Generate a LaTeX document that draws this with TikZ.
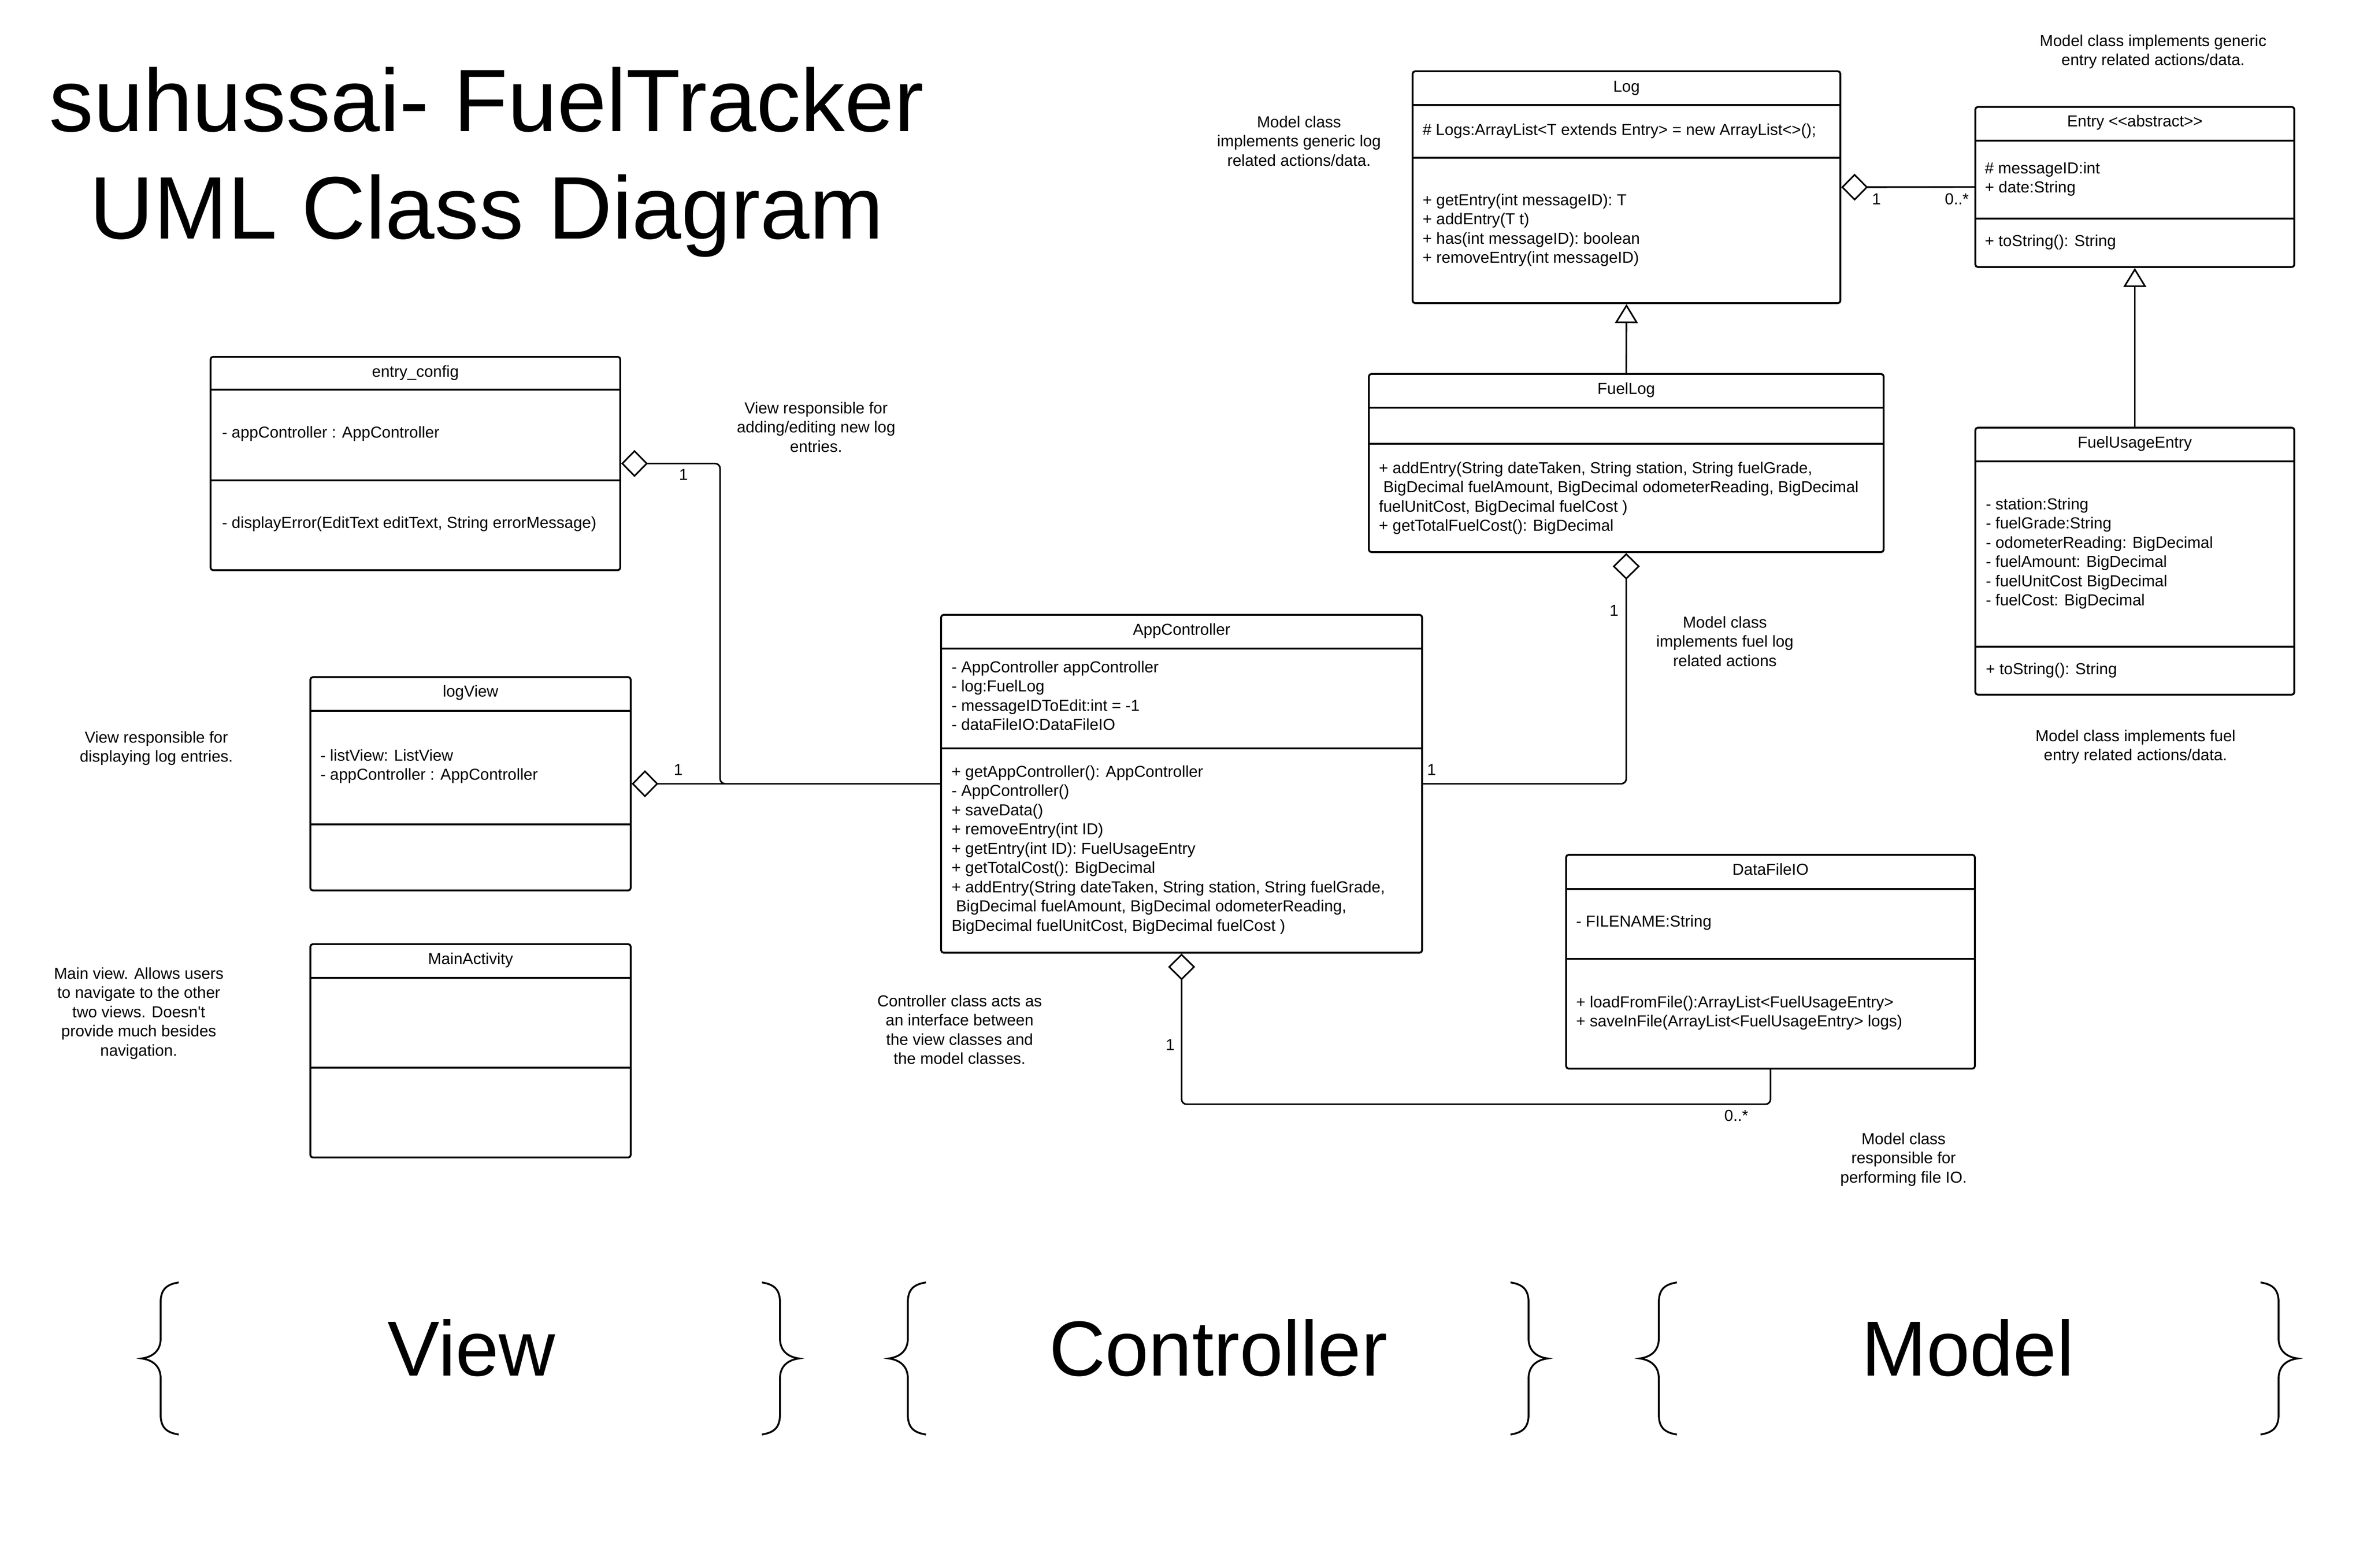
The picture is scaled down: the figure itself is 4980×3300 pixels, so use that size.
\documentclass[tikz,border=0pt]{standalone}
\usepackage{fontspec}
\setmainfont{Liberation Sans}
\usetikzlibrary{arrows.meta,fit}
\tikzset{
  umlbox/.style={draw, line width=1.1pt, rounded corners=1.5pt, inner sep=0pt},
  sepline/.style={line width=1.1pt},
  body/.style={font=\fontsize{9.53pt}{11.52pt}\selectfont, inner sep=0pt, outer sep=0pt},
  cls/.style={body, anchor=base},
  comp/.style={body, anchor=north west, align=left},
  note/.style={body, anchor=north, align=center},
  mult/.style={body, anchor=base},
  conn/.style={line width=0.95pt},
  agg/.style={conn, -{Diamond[open, length=0.56cm, width=0.57cm]}},
  gen/.style={conn, -{Triangle[open, length=0.40cm, width=0.48cm]}},
  braceline/.style={line width=1.1pt},
  bigtitle/.style={font=\fontsize{53.1pt}{61pt}\selectfont, anchor=base, inner sep=0pt},
  biglabel/.style={font=\fontsize{46.7pt}{54pt}\selectfont, anchor=base, inner sep=0pt},
  curlyb/.pic={\draw[braceline] (78,-160) .. controls (52,-156) and (40,-145) .. (40,-118) -- (40,-42) .. controls (40,-15) and (22,-3) .. (0,0) .. controls (22,3) and (40,15) .. (40,42) -- (40,118) .. controls (40,145) and (52,156) .. (78,160);}
}
\begin{document}
\begin{tikzpicture}[x=0.01cm, y=-0.01cm]
\useasboundingbox (0,0) rectangle (4980,3300);
\fill[white] (0,0) rectangle (4980,3300);

% ---------- title ----------
\node[bigtitle] (title1) at (1024,277) {suhussai- FuelTracker};
\node[bigtitle] (title2) at (1024,502) {UML Class Diagram};

% ---------- Log ----------
\node[umlbox, fit={(2972,150) (3872,638)}] (log) {};
\draw[sepline] (2972,221) -- (3872,221);
\draw[sepline] (2972,332) -- (3872,332);
\node[cls] (logt) at (3422,194) {Log};
\node[comp] (loga) at (2993,255.65) {\strut\# Logs:ArrayList<T extends Entry> = new ArrayList<>();};
\node[comp] (logm) at (2993,403.65) {\strut+ getEntry(int messageID): T\\\strut+ addEntry(T t)\\\strut+ has(int messageID): boolean\\\strut+ removeEntry(int messageID)};

% ---------- Entry ----------
\node[umlbox, fit={(4156,225) (4827,562)}] (entry) {};
\draw[sepline] (4156,296) -- (4827,296);
\draw[sepline] (4156,460) -- (4827,460);
\node[cls] (entryt) at (4491.5,267) {Entry <{}<abstract>{}>};
\node[comp] (entrya) at (4176,336.65) {\strut\# messageID:int\\\strut+ date:String};
\node[comp] (entrym) at (4176,489.65) {\strut+ toString(): String};

% ---------- FuelLog ----------
\node[umlbox, fit={(2880,787) (3963,1162)}] (fuellog) {};
\draw[sepline] (2880,858) -- (3963,858);
\draw[sepline] (2880,934) -- (3963,934);
\node[cls] (fuellogt) at (3421.5,829) {FuelLog};
\node[comp] (fuellogm) at (2901,967.65) {\strut+ addEntry(String dateTaken, String station, String fuelGrade,\\\strut\ BigDecimal fuelAmount, BigDecimal odometerReading, BigDecimal\\\strut fuelUnitCost, BigDecimal fuelCost )\\\strut+ getTotalFuelCost(): BigDecimal};

% ---------- FuelUsageEntry ----------
\node[umlbox, fit={(4156,900) (4827,1462)}] (fuelusage) {};
\draw[sepline] (4156,971) -- (4827,971);
\draw[sepline] (4156,1361) -- (4827,1361);
\node[cls] (fuelusaget) at (4491.5,942) {FuelUsageEntry};
\node[comp] (fuelusagea) at (4178,1043.65) {\strut- station:String\\\strut- fuelGrade:String\\\strut- odometerReading: BigDecimal\\\strut- fuelAmount: BigDecimal\\\strut- fuelUnitCost BigDecimal\\\strut- fuelCost: BigDecimal};
\node[comp] (fuelusagem) at (4178,1390.65) {\strut+ toString(): String};

% ---------- entry_config ----------
\node[umlbox, fit={(443,751) (1305,1200)}] (entryconfig) {};
\draw[sepline] (443,820) -- (1305,820);
\draw[sepline] (443,1011) -- (1305,1011);
\node[cls] (entryconfigt) at (874,793) {entry\_config};
\node[comp] (entryconfiga) at (467,892.65) {\strut- appController : AppController};
\node[comp] (entryconfigm) at (467,1082.65) {\strut- displayError(EditText editText, String errorMessage)};

% ---------- logView ----------
\node[umlbox, fit={(653,1425) (1327,1874)}] (logview) {};
\draw[sepline] (653,1496) -- (1327,1496);
\draw[sepline] (653,1735) -- (1327,1735);
\node[cls] (logviewt) at (990,1466) {logView};
\node[comp] (logviewa) at (674,1572.65) {\strut- listView: ListView\\\strut- appController : AppController};

% ---------- MainActivity ----------
\node[umlbox, fit={(653,1987) (1327,2436)}] (mainact) {};
\draw[sepline] (653,2058) -- (1327,2058);
\draw[sepline] (653,2247) -- (1327,2247);
\node[cls] (mainactt) at (990,2029) {MainActivity};

% ---------- AppController ----------
\node[umlbox, fit={(1980,1294) (2992,2005)}] (appctrl) {};
\draw[sepline] (1980,1365) -- (2992,1365);
\draw[sepline] (1980,1575) -- (2992,1575);
\node[cls] (appctrlt) at (2486,1336) {AppController};
\node[comp] (appctrla) at (2002,1386.65) {\strut- AppController appController\\\strut- log:FuelLog\\\strut- messageIDToEdit:int = -1\\\strut- dataFileIO:DataFileIO};
\node[comp] (appctrlm) at (2002,1606.65) {\strut+ getAppController(): AppController\\\strut- AppController()\\\strut+ saveData()\\\strut+ removeEntry(int ID)\\\strut+ getEntry(int ID): FuelUsageEntry\\\strut+ getTotalCost(): BigDecimal\\\strut+ addEntry(String dateTaken, String station, String fuelGrade,\\\strut\ BigDecimal fuelAmount, BigDecimal odometerReading,\\\strut BigDecimal fuelUnitCost, BigDecimal fuelCost )};

% ---------- DataFileIO ----------
\node[umlbox, fit={(3295,1799) (4155,2249)}] (datafileio) {};
\draw[sepline] (3295,1871) -- (4155,1871);
\draw[sepline] (3295,2018) -- (4155,2018);
\node[cls] (datafileiot) at (3725,1841) {DataFileIO};
\node[comp] (datafileioa) at (3316,1921.65) {\strut- FILENAME:String};
\node[comp] (datafileiom) at (3316,2091.65) {\strut+ loadFromFile():ArrayList<FuelUsageEntry>\\\strut+ saveInFile(ArrayList<FuelUsageEntry> logs)};

% ---------- notes ----------
\node[note] (noteentry) at (4530,68.65) {\strut Model class implements generic\\\strut entry related actions/data.};
\node[note] (notelog) at (2733,239.65) {\strut Model class\\\strut implements generic log\\\strut related actions/data.};
\node[note] (noteconfig) at (1717,841.65) {\strut View responsible for\\\strut adding/editing new log\\\strut entries.};
\node[note] (notelogview) at (329,1534.65) {\strut View responsible for\\\strut displaying log entries.};
\node[note] (notemain) at (292,2031.65) {\strut Main view. Allows users\\\strut to navigate to the other\\\strut two views. Doesn\textquotesingle t\\\strut provide much besides\\\strut navigation.};
\node[note] (notefuellog) at (3629,1292.65) {\strut Model class\\\strut implements fuel log\\\strut related actions};
\node[note] (notefuelentry) at (4493,1531.65) {\strut Model class implements fuel\\\strut entry related actions/data.};
\node[note] (notectrl) at (2019,2089.65) {\strut Controller class acts as\\\strut an interface between\\\strut the view classes and\\\strut the model classes.};
\node[note] (notefile) at (4005,2379.65) {\strut Model class\\\strut responsible for\\\strut performing file IO.};

% ---------- connectors ----------
\draw[agg] (entry.west) -- (log.east);
\draw[gen] (fuellog.north) -- (log.south);
\draw[gen] (fuelusage.north) -- (entry.south);
\draw[agg, rounded corners=3pt] (appctrl.east) -| (fuellog.south);
\draw[agg] (appctrl.west) -- (logview.east);
\coordinate (cfgturn) at (1515,975.5);
\draw[agg, rounded corners=3pt] (appctrl.west) -| (cfgturn) -- (entryconfig.east);
\coordinate (dfturn) at (3725,2324);
\draw[agg, rounded corners=3pt] (datafileio.south) -- (dfturn) -| (appctrl.south);

% ---------- multiplicities ----------
\node[mult] (m1) at (3948,430) {1};
\node[mult] (m2) at (4117,430) {0..*};
\node[mult] (m3) at (1438,1010) {1};
\node[mult] (m4) at (1427,1631) {1};
\node[mult] (m5) at (3396,1296) {1};
\node[mult] (m6) at (3012,1631) {1};
\node[mult] (m7) at (2462,2210) {1};
\node[mult] (m8) at (3653,2359) {0..*};

% ---------- layer braces ----------
\pic at (298,2859) {curlyb};
\pic[xscale=-1] at (1681,2859) {curlyb};
\pic at (1870,2859) {curlyb};
\pic[xscale=-1] at (3256,2859) {curlyb};
\pic at (3450,2859) {curlyb};
\pic[xscale=-1] at (4834,2859) {curlyb};
\node[biglabel] (lview) at (992,2895) {View};
\node[biglabel] (lctrl) at (2563,2895) {Controller};
\node[biglabel] (lmodel) at (4140,2895) {Model};
\end{tikzpicture}
\end{document}
